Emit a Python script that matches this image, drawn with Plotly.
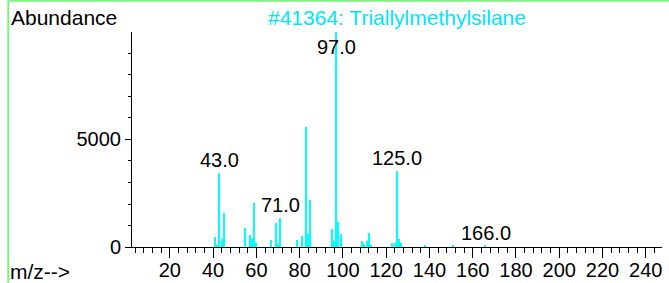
import plotly.graph_objects as go

# m/z values and abundances
mz = [41, 42, 43, 44, 45, 55, 57, 58, 59, 60, 67, 69, 70, 71, 79, 81, 83, 84, 85,
      95, 96, 97, 98, 99, 109, 110, 111, 112, 113, 123, 124, 125, 126, 127, 138, 151, 166]
abundance = [460, 100, 3460, 390, 1570, 890, 540, 390, 2030, 185, 310, 1110, 155, 1370, 310, 490, 5570, 585, 2190,
             860, 275, 9999, 1150, 600, 275, 155, 275, 645, 60, 185, 185, 3540, 390, 185, 50, 50, 50]
labeled_mz = [43, 71, 97, 125, 166]
x_ticks = [20, 40, 60, 80, 100, 120, 140, 160, 180, 200, 220, 240]
y_ticks = [0, 5000]
title_text = "#41364: Triallylmethylsilane"

FONT = "Liberation Sans, Arial, sans-serif"
FS = 20
FS_HEAD = 21
CYAN = "#00FFFF"
YMAX = 9999

fig = go.Figure()
fig.add_trace(go.Bar(x=mz, y=abundance, width=0.65, marker=dict(color=CYAN, line=dict(width=0)),
                     showlegend=False, hoverinfo="x+y"))

for m in labeled_mz:
    v = abundance[mz.index(m)]
    if v > 0.9 * YMAX:
        fig.add_annotation(x=m, y=YMAX, text=f"{m:.1f}", showarrow=False, yanchor="top", yshift=-2,
                           font=dict(family=FONT, size=FS, color="black"))
    else:
        fig.add_annotation(x=m, y=v, text=f"{m:.1f}", showarrow=False, yanchor="bottom", yshift=0,
                           font=dict(family=FONT, size=FS, color="black"))

fig.add_annotation(xref="paper", yref="paper", x=-0.232, y=1.0, xanchor="left", yanchor="bottom", yshift=1,
                   text="Abundance", showarrow=False, font=dict(family=FONT, size=FS_HEAD, color="black"))
fig.add_annotation(xref="paper", yref="paper", x=-0.234, y=0, xanchor="left", yanchor="top", yshift=-11,
                   text="m/z-->", showarrow=False, font=dict(family=FONT, size=FS_HEAD, color="black"))
fig.add_annotation(xref="paper", yref="paper", x=0.5, y=1.0, xanchor="center", yanchor="bottom", yshift=1,
                   text=title_text, showarrow=False, font=dict(family=FONT, size=FS_HEAD, color="#00E5FF"))

# light green frame lines (top and left)
fig.add_shape(type="line", xref="paper", yref="paper", x0=-0.2335, x1=1.02, y0=1.145, y1=1.145,
              line=dict(color="#80F080", width=2))
fig.add_shape(type="line", xref="paper", yref="paper", x0=-0.2335, x1=-0.2335, y0=1.145, y1=-0.2,
              line=dict(color="#80F080", width=2))

fig.update_layout(
    width=669, height=283,
    margin=dict(l=132, r=7, t=32, b=36, autoexpand=False),
    paper_bgcolor="white", plot_bgcolor="white",
    font=dict(family=FONT, size=FS, color="black"),
    bargap=0,
    xaxis=dict(range=[2.5, 247.5], tickvals=x_ticks, ticks="outside", ticklen=10, tickwidth=1,
               tickcolor="black", showline=True, linecolor="black", linewidth=1, showgrid=False,
               zeroline=False, automargin=False, tickfont=dict(family=FONT, size=FS),
               ticklabelstandoff=-5,
               minor=dict(dtick=4, tick0=0, ticks="outside", ticklen=5, tickcolor="black", showgrid=False)),
    yaxis=dict(range=[0, YMAX], tickvals=y_ticks, ticks="outside", ticklen=6, tickwidth=1,
               tickcolor="black", showline=True, linecolor="black", linewidth=1, showgrid=False,
               zeroline=False, automargin=False, tickfont=dict(family=FONT, size=FS),
               minor=dict(dtick=1000, tick0=0, ticks="outside", ticklen=3, tickcolor="black", showgrid=False)),
)

fig.write_html("out.html", config={"displayModeBar": False},
               post_script="document.body.style.margin='0';document.body.style.overflow='hidden';")
